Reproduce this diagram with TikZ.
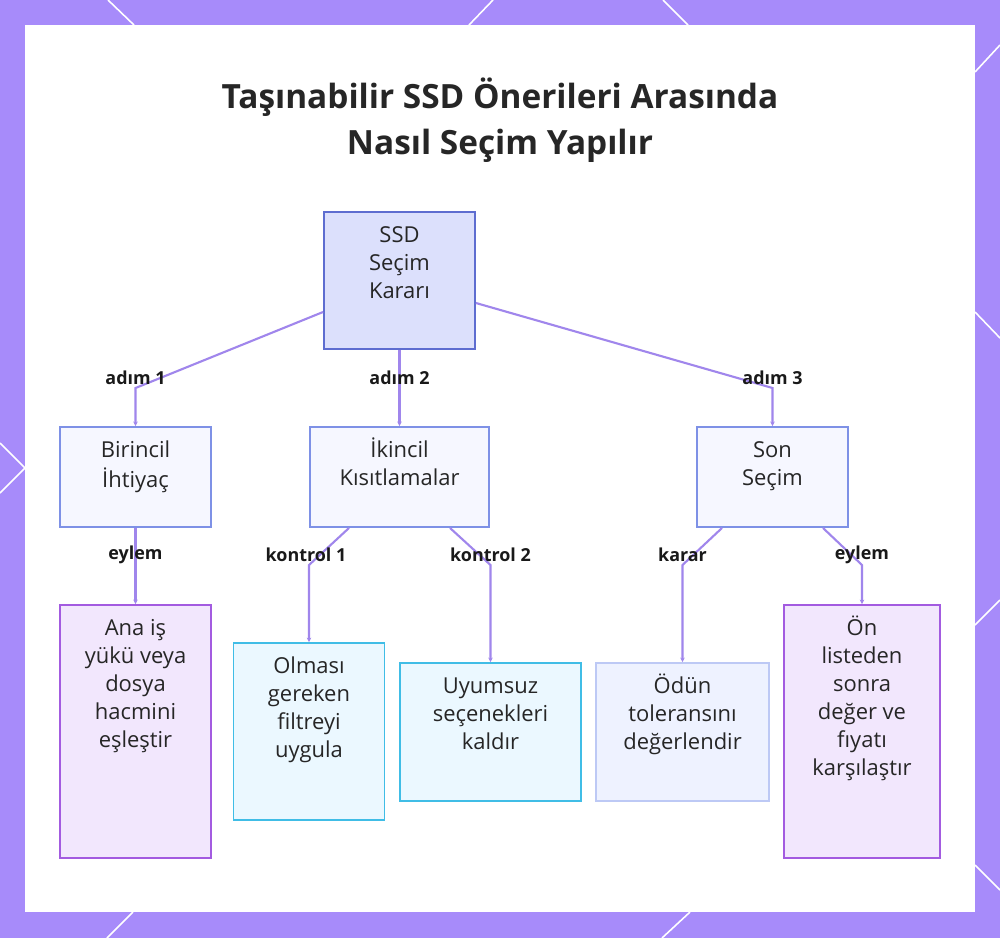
\documentclass[tikz,border=0pt]{standalone}
\usepackage{fontspec}
\setmainfont{Open Sans}
\usetikzlibrary{positioning,arrows.meta}

\definecolor{bgpurple}{HTML}{A78BFA}
\definecolor{linkcol}{HTML}{A086EC}
\definecolor{textdark}{HTML}{262626}
\definecolor{rootfill}{HTML}{DCE0FC}
\definecolor{rootline}{HTML}{5E6DD0}
\definecolor{stepfill}{HTML}{F6F7FF}
\definecolor{stepline}{HTML}{7E91E6}
\definecolor{actfill}{HTML}{F2E7FD}
\definecolor{actline}{HTML}{A35BE0}
\definecolor{chkfill}{HTML}{EBF8FF}
\definecolor{chkline}{HTML}{40BDE6}
\definecolor{decfill}{HTML}{EEF2FF}
\definecolor{decline}{HTML}{BDC9F5}

\tikzset{
	box/.style={draw, line width=1.1pt, inner sep=0pt},
	rootbox/.style={box, draw=rootline, fill=rootfill},
	stepbox/.style={box, draw=stepline, fill=stepfill, minimum height=2cm},
	actbox/.style={box, draw=actline, fill=actfill, minimum height=5.06cm},
	chkbox/.style={box, draw=chkline, fill=chkfill},
	decbox/.style={box, draw=decline, fill=decfill, minimum height=2.76cm},
	boxtext/.style={font=\fontsize{12.5pt}{15.9pt}\selectfont, text=textdark, align=center, inner sep=0pt},
	lbl/.style={font=\fontsize{10.2pt}{11pt}\selectfont\bfseries, text=black!90, inner sep=1pt},
	link/.style={draw=linkcol, line width=1.2pt, -{Stealth[length=0.9mm,width=0.9mm]}},
	deco/.style={draw=white, line width=0.9pt}
}

\begin{document}
\begin{tikzpicture}[x=0.02cm, y=-0.02cm]
	\useasboundingbox (0,0) rectangle (1000,938);
	
	% frame
	\fill[bgpurple] (0,0) rectangle (1000,938);
	\fill[white] (25,25) rectangle (975,912);
	\draw[deco] (108,0) -- (134,25);
	\draw[deco] (493,0) -- (469,25);
	\draw[deco] (663,0) -- (688,25);
	\draw[deco] (975,72) -- (1000,45);
	\draw[deco] (975,312) -- (1000,338);
	\draw[deco] (975,625) -- (1000,600);
	\draw[deco] (975,865) -- (1000,890);
	\draw[deco] (690,912) -- (662,938);
	\draw[deco] (133,912) -- (107,938);
	\draw[deco] (0,443) -- (25,468) -- (0,493);
	
	\node[font=\fontsize{19pt}{26pt}\selectfont\bfseries, text=textdark, align=center] (title) at (500,120) {Taşınabilir SSD Önerileri Arasında\\Nasıl Seçim Yapılır};
	
	% boxes
	\node[rootbox, minimum width=3.02cm, minimum height=2.74cm] (root) at (399.5,280.5) {};
	\node[stepbox, minimum width=3.02cm] (bir) at (135.5,477) {};
	\node[stepbox, minimum width=3.58cm] (iki) at (399.5,477) {};
	\node[stepbox, minimum width=3.02cm] (son) at (772.5,477) {};
	\node[actbox, minimum width=3.02cm] (ana) at (135.5,731.5) {};
	\node[chkbox, minimum width=3.02cm, minimum height=3.54cm] (olm) at (309,731.5) {};
	\node[chkbox, minimum width=3.62cm, minimum height=2.76cm] (uyu) at (490.5,732) {};
	\node[decbox, minimum width=3.46cm] (odun) at (682.5,732) {};
	\node[actbox, minimum width=3.12cm] (on) at (862,731.5) {};
	
	\node[boxtext, below=0.23cm of root.north] (roottxt) {\strut SSD\\Seçim\\Kararı};
	\node[boxtext, below=0.23cm of bir.north] (birtxt) {\strut Birincil\\İhtiyaç};
	\node[boxtext, below=0.23cm of iki.north] (ikitxt) {\strut İkincil\\Kısıtlamalar};
	\node[boxtext, below=0.23cm of son.north] (sontxt) {\strut Son\\Seçim};
	\node[boxtext, below=0.23cm of ana.north] (anatxt) {\strut Ana iş\\yükü veya\\dosya\\hacmini\\eşleştir};
	\node[boxtext, below=0.23cm of olm.north] (olmtxt) {\strut Olması\\gereken\\filtreyi\\uygula};
	\node[boxtext, below=0.23cm of uyu.north] (uyutxt) {\strut Uyumsuz\\seçenekleri\\kaldır};
	\node[boxtext, below=0.23cm of odun.north] (oduntxt) {\strut Ödün\\toleransını\\değerlendir};
	\node[boxtext, below=0.23cm of on.north] (ontxt) {\strut Ön\\listeden\\sonra\\değer ve\\fıyatı\\karşılaştır};
	
	% links
	\draw[link] ([yshift=-0.63cm]root.west) -- (bir.north |- 0,388) node[lbl, yshift=0.2cm] {adım 1} -- (bir.north);
	\draw[link] (root.south) -- node[lbl, yshift=0.2cm] {adım 2} (iki.north);
	\draw[link] ([yshift=-0.45cm]root.east) -- (son.north |- 0,388) node[lbl, yshift=0.2cm] {adım 3} -- (son.north);
	\draw[link] (bir.south) -- node[lbl, yshift=0.22cm] {eylem} (ana.north);
	\draw[link] ([xshift=-1.01cm]iki.south) -- (olm.north |- 0,565) node[lbl, yshift=0.2cm, xshift=-0.06cm] {kontrol 1} -- (olm.north);
	\draw[link] ([xshift=1.01cm]iki.south) -- (uyu.north |- 0,565) node[lbl, yshift=0.2cm] {kontrol 2} -- (uyu.north);
	\draw[link] ([xshift=-1.01cm]son.south) -- (odun.north |- 0,565) node[lbl, yshift=0.2cm] {karar} -- (odun.north);
	\draw[link] ([xshift=1.01cm]son.south) -- (on.north |- 0,565) node[lbl, yshift=0.2cm] {eylem} -- (on.north);
\end{tikzpicture}
\end{document}
